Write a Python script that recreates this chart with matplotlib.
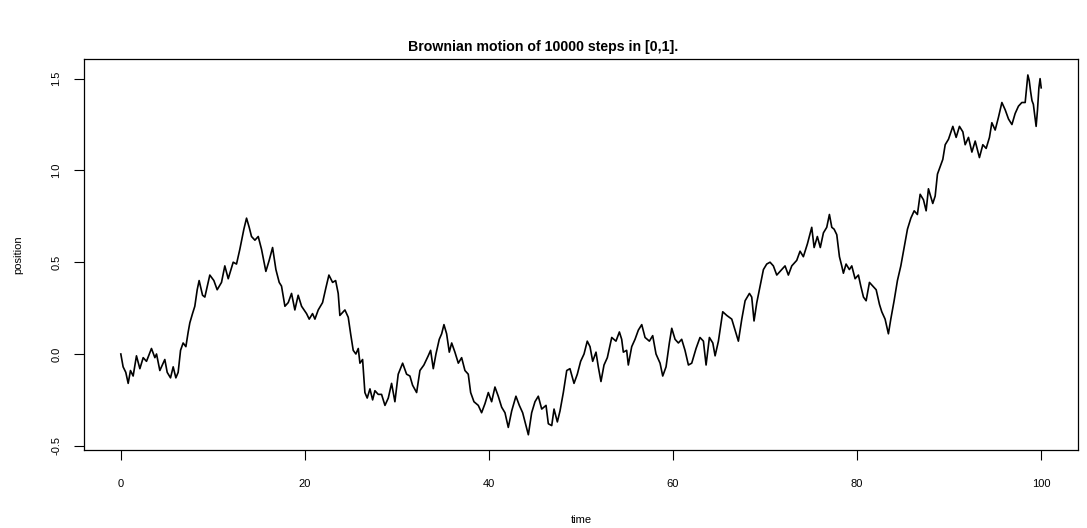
import matplotlib
matplotlib.use("Agg")
import matplotlib.pyplot as plt

plt.rcParams['font.family'] = ['Liberation Sans', 'DejaVu Sans']

# sampled path of the walk: time vs position
time = [
    0.00, 0.25, 0.54, 0.80, 1.05, 1.34, 1.70, 2.07, 2.43, 2.79,
    3.33, 3.70, 3.88, 4.24, 4.78, 5.04, 5.40, 5.69, 5.98, 6.23,
    6.49, 6.77, 7.07, 7.32, 7.50, 7.79, 8.04, 8.30, 8.51, 8.88,
    9.13, 9.67, 10.11, 10.47, 10.94, 11.30, 11.67, 12.21, 12.57, 12.93,
    13.37, 13.66, 13.95, 14.20, 14.57, 14.93, 15.29, 15.76, 16.12, 16.49,
    16.85, 17.21, 17.46, 17.83, 18.19, 18.55, 18.91, 19.27, 19.64, 20.18,
    20.47, 20.83, 21.09, 21.45, 21.92, 22.28, 22.61, 23.01, 23.34, 23.62,
    23.80, 24.35, 24.71, 24.97, 25.25, 25.54, 25.80, 25.98, 26.27, 26.52,
    26.77, 27.07, 27.36, 27.61, 27.97, 28.33, 28.70, 29.06, 29.42, 29.78,
    30.14, 30.62, 31.05, 31.41, 31.70, 32.14, 32.50, 32.93, 33.40, 33.66,
    33.95, 34.24, 34.60, 34.86, 35.11, 35.40, 35.69, 35.95, 36.30, 36.67,
    37.03, 37.39, 37.75, 38.01, 38.37, 38.84, 39.20, 39.57, 39.93, 40.29,
    40.65, 41.01, 41.38, 41.74, 42.10, 42.47, 42.93, 43.30, 43.66, 44.02,
    44.28, 44.64, 45.00, 45.36, 45.73, 46.20, 46.45, 46.82, 47.07, 47.43,
    47.72, 48.08, 48.45, 48.80, 49.24, 49.60, 49.96, 50.33, 50.68, 50.98,
    51.27, 51.63, 51.88, 52.17, 52.50, 52.86, 53.34, 53.80, 54.17, 54.42,
    54.60, 54.96, 55.14, 55.51, 55.87, 56.23, 56.60, 56.96, 57.43, 57.79,
    58.15, 58.59, 58.88, 59.24, 59.60, 59.86, 60.22, 60.58, 60.94, 61.30,
    61.67, 62.03, 62.50, 62.93, 63.30, 63.59, 63.95, 64.32, 64.57, 64.93,
    65.40, 65.84, 66.38, 66.74, 67.10, 67.47, 67.83, 68.30, 68.55, 68.80,
    69.10, 69.38, 69.82, 70.18, 70.54, 70.90, 71.27, 71.63, 72.17, 72.53,
    72.90, 73.44, 73.80, 74.16, 74.60, 75.07, 75.33, 75.68, 76.00, 76.34,
    76.70, 76.99, 77.25, 77.50, 77.79, 78.08, 78.33, 78.51, 78.80, 79.16,
    79.42, 79.78, 80.14, 80.40, 80.69, 80.98, 81.34, 81.70, 82.07, 82.43,
    82.68, 83.04, 83.40, 83.66, 84.02, 84.38, 84.75, 85.11, 85.47, 85.84,
    86.20, 86.55, 86.85, 87.21, 87.50, 87.75, 88.22, 88.48, 88.73, 89.02,
    89.31, 89.57, 89.93, 90.40, 90.76, 91.12, 91.49, 91.74, 92.10, 92.47,
    92.83, 93.29, 93.66, 94.02, 94.38, 94.64, 95.00, 95.36, 95.73, 96.09,
    96.45, 96.82, 97.17, 97.53, 97.90, 98.26, 98.55, 98.70, 98.85, 99.00,
    99.15, 99.30, 99.45, 99.60, 99.75, 99.88, 100.00,
]
position = [
    0.00, -0.07, -0.10, -0.16, -0.09, -0.12, -0.01, -0.08, -0.02, -0.04,
    0.03, -0.02, 0.00, -0.09, -0.03, -0.10, -0.13, -0.07, -0.13, -0.10,
    0.02, 0.06, 0.04, 0.12, 0.17, 0.22, 0.26, 0.35, 0.40, 0.32,
    0.31, 0.43, 0.40, 0.35, 0.39, 0.48, 0.41, 0.50, 0.49, 0.57,
    0.68, 0.74, 0.69, 0.64, 0.62, 0.64, 0.57, 0.45, 0.51, 0.58,
    0.46, 0.39, 0.37, 0.26, 0.28, 0.33, 0.24, 0.32, 0.26, 0.22,
    0.19, 0.22, 0.19, 0.24, 0.28, 0.36, 0.43, 0.39, 0.40, 0.33,
    0.21, 0.24, 0.20, 0.11, 0.02, 0.00, 0.03, -0.05, -0.03, -0.21,
    -0.24, -0.19, -0.25, -0.20, -0.22, -0.22, -0.28, -0.24, -0.16, -0.26,
    -0.11, -0.05, -0.11, -0.12, -0.17, -0.21, -0.09, -0.06, -0.01, 0.02,
    -0.08, 0.00, 0.08, 0.11, 0.16, 0.11, 0.01, 0.06, 0.01, -0.05,
    -0.02, -0.09, -0.11, -0.21, -0.26, -0.28, -0.32, -0.27, -0.21, -0.26,
    -0.18, -0.23, -0.29, -0.32, -0.40, -0.31, -0.23, -0.28, -0.32, -0.39,
    -0.44, -0.32, -0.26, -0.23, -0.30, -0.28, -0.38, -0.39, -0.30, -0.37,
    -0.31, -0.21, -0.09, -0.08, -0.16, -0.11, -0.04, 0.00, 0.07, 0.04,
    -0.04, 0.01, -0.07, -0.15, -0.06, -0.02, 0.09, 0.07, 0.12, 0.08,
    0.01, 0.02, -0.06, 0.04, 0.08, 0.13, 0.16, 0.09, 0.07, 0.10,
    0.00, -0.05, -0.12, -0.07, 0.06, 0.14, 0.08, 0.06, 0.08, 0.02,
    -0.06, -0.05, 0.03, 0.09, 0.07, -0.06, 0.09, 0.06, -0.01, 0.07,
    0.23, 0.21, 0.19, 0.13, 0.07, 0.19, 0.29, 0.33, 0.31, 0.18,
    0.28, 0.35, 0.46, 0.49, 0.50, 0.48, 0.43, 0.45, 0.48, 0.43,
    0.48, 0.51, 0.56, 0.53, 0.60, 0.69, 0.58, 0.64, 0.58, 0.66,
    0.69, 0.76, 0.69, 0.68, 0.65, 0.53, 0.48, 0.44, 0.49, 0.46,
    0.48, 0.41, 0.43, 0.37, 0.31, 0.29, 0.39, 0.37, 0.35, 0.27,
    0.23, 0.19, 0.11, 0.19, 0.29, 0.40, 0.48, 0.58, 0.68, 0.74,
    0.78, 0.76, 0.87, 0.84, 0.78, 0.90, 0.82, 0.86, 0.98, 1.02,
    1.06, 1.14, 1.17, 1.24, 1.18, 1.24, 1.21, 1.14, 1.18, 1.10,
    1.16, 1.07, 1.14, 1.12, 1.18, 1.26, 1.22, 1.29, 1.37, 1.33,
    1.28, 1.25, 1.31, 1.35, 1.37, 1.37, 1.52, 1.49, 1.43, 1.38,
    1.36, 1.30, 1.24, 1.33, 1.45, 1.50, 1.45,
]

x_ticks = [0, 20, 40, 60, 80, 100]
y_ticks = [-0.5, 0.0, 0.5, 1.0, 1.5]

W, H = 1087, 528
left, right, top, bottom = 84, 1078, 59, 450
fig = plt.figure(figsize=(W / 100, H / 100), dpi=100)
ax = fig.add_axes([left / W, 1 - bottom / H, (right - left) / W, (bottom - top) / H])

ax.plot(time, position, color='black', linewidth=1.2)

ax.set_xlim(-4, 104)
ax.set_ylim(-0.523, 1.607)

ax.set_xticks(x_ticks)
ax.set_xticklabels([str(t) for t in x_ticks])
ax.set_yticks(y_ticks)
ax.set_yticklabels(['%.1f' % v for v in y_ticks])

for s in ax.spines.values():
    s.set_linewidth(0.9)
    s.set_color('black')

ax.tick_params(axis='both', direction='out', length=7.2, width=0.8,
               labelsize=8, colors='black')
ax.tick_params(axis='x', pad=13.5)
ax.tick_params(axis='y', pad=9)
for lbl in ax.get_yticklabels():
    lbl.set_rotation(90)
    lbl.set_va('center')
    lbl.set_ha('right')

cx = 0.5 * (left + right) / W
fig.text(0.5, 1 - 47 / H, 'Brownian motion of 10000 steps in [0,1].',
         ha='center', va='center', fontsize=10.2, fontweight='bold')
fig.text(cx, 1 - 520 / H, 'time', ha='center', va='center', fontsize=8)
fig.text(18 / W, 1 - 255 / H, 'position', rotation=90,
         ha='center', va='center', fontsize=8)

fig.savefig('out.png', dpi=100)
